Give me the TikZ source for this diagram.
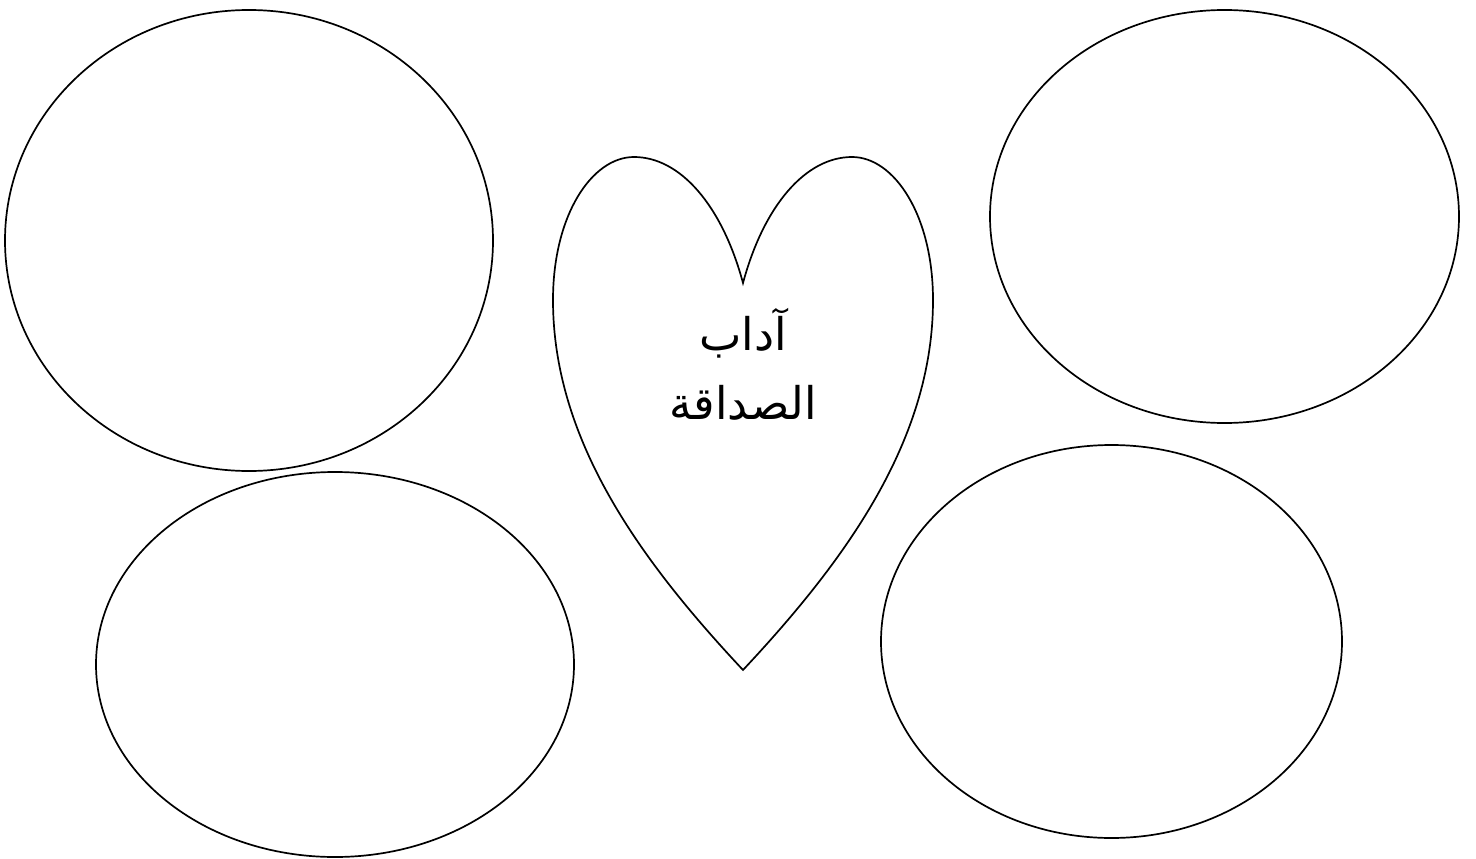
\documentclass[tikz,border=0pt]{standalone}
\usepackage{fontspec}
\newfontfamily\arabicfont[Script=Arabic]{DejaVu Sans}
\TeXXeTstate=1
\begin{document}
\begin{tikzpicture}[x=1pt,y=-1pt,
  bubble/.style={draw=black,line width=1.7pt},
  lbl/.style={font=\arabicfont\fontsize{45}{50}\selectfont,inner sep=0pt}]
\useasboundingbox (0,0) rectangle (1476,859);
\draw[bubble] (249,240.5) ellipse [x radius=244,y radius=230.5];
\draw[bubble] (1224.5,216.5) ellipse [x radius=234.5,y radius=206.5];
\draw[bubble] (335,664.5) ellipse [x radius=239,y radius=192.5];
\draw[bubble] (1111.5,641.5) ellipse [x radius=230.5,y radius=196.5];
\coordinate (tip) at (743,670);
\coordinate (notch) at (743,283);
\draw[bubble,line join=miter] (tip) .. controls (640,560) and (553,440) .. (553,300)
  .. controls (553,215) and (592,157) .. (634,157)
  .. controls (680,157) and (722,205) .. (notch)
  .. controls (764,205) and (806,157) .. (852,157)
  .. controls (894,157) and (933,215) .. (933,300)
  .. controls (933,440) and (846,560) .. (tip) -- cycle;
\node[lbl] (t1) at (743,333) {\beginR آداب\endR};
\node[lbl] (t2) at (743,403) {\beginR الصداقة\endR};
\end{tikzpicture}
\end{document}
